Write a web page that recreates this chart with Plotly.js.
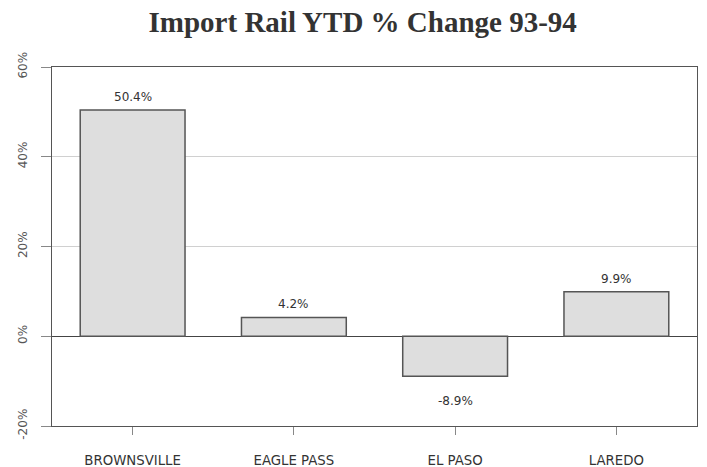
<!DOCTYPE html>
<html><head><meta charset="utf-8">
<script src="https://cdn.plot.ly/plotly-3.0.1.min.js"></script>
<style>html,body{margin:0;padding:0;background:#fff}#chart{width:707px;height:467px}</style>
</head><body><div id="chart"></div>
<script>
const categories = ["BROWNSVILLE", "EAGLE PASS", "EL PASO", "LAREDO"];
const values = [50.4, 4.2, -8.9, 9.9];
const labels = ["50.4%", "4.2%", "-8.9%", "9.9%"];
const tickVals = [-20, 0, 20, 40, 60];
const tickText = ["-20%", "0%", "20%", "40%", "60%"];

const trace = {
  type: "bar", x: categories, y: values,
  marker: {color: "#dedede", line: {color: "#555", width: 1.5}},
  width: 0.65, hoverinfo: "none"
};
const annotations = categories.map((c, i) => ({
  x: c, y: values[i], text: labels[i], showarrow: false,
  yanchor: values[i] >= 0 ? "bottom" : "top",
  yshift: values[i] >= 0 ? 4 : -16,
  font: {family: "DejaVu Sans", size: 12, color: "#333"}
}));
const layout = {
  width: 707, height: 467,
  margin: {l: 52, r: 10, t: 67, b: 41},
  paper_bgcolor: "#fff", plot_bgcolor: "#fff",
  title: {text: "Import Rail YTD % Change 93-94", x: 0.513, xanchor: "center", y: 0.953, yanchor: "middle",
    font: {family: "Liberation Serif", size: 29, color: "#333", weight: "bold"}},
  xaxis: {
    showline: true, mirror: true, linecolor: "#555", linewidth: 1.2,
    ticks: "outside", ticklen: 8, tickcolor: "#888",
    ticklabelstandoff: 14,
    tickfont: {family: "DejaVu Sans", size: 13.3, color: "#333"},
    showgrid: false, zeroline: false
  },
  yaxis: {
    range: [-20, 60], tickvals: tickVals, ticktext: tickText, tickangle: -90,
    showline: true, mirror: true, linecolor: "#555", linewidth: 1.2,
    ticks: "outside", ticklen: 10, tickcolor: "#888",
    ticklabelstandoff: 9,
    tickfont: {family: "DejaVu Sans", size: 12, color: "#555"},
    showgrid: true, gridcolor: "#d0d0d0", gridwidth: 1,
    zeroline: true, zerolinecolor: "#444", zerolinewidth: 1.2
  },
  annotations: annotations,
  showlegend: false, bargap: 0.35
};
Plotly.newPlot("chart", [trace], layout, {displayModeBar: false, staticPlot: true});
</script></body></html>
